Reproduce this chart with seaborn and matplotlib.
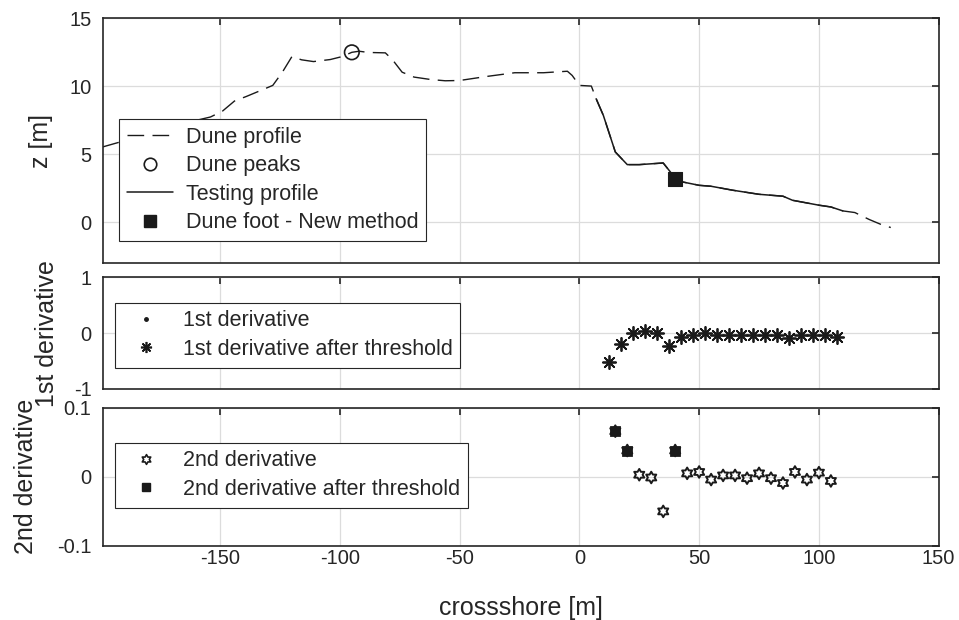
import numpy as np
import pandas as pd
import matplotlib
matplotlib.use("Agg")
import matplotlib.pyplot as plt
from matplotlib.lines import Line2D
from matplotlib.path import Path
import seaborn as sns

# ---------------- data ----------------
profile_x = [-199, -190, -175, -160, -154, -149, -144, -139, -133, -128, -124, -120, -116, -111,
             -104, -99, -95, -92, -88, -81, -78, -74, -69, -62, -56, -50, -39, -27, -15, -5, -3,
             0, 5, 7, 10, 15, 20, 25, 35, 38, 40, 43, 50, 55, 64, 75, 85, 89, 100, 105, 110,
             115, 121, 126, 130]
profile_z = [5.55, 6.0, 6.8, 7.5, 7.75, 8.18, 8.92, 9.26, 9.7, 10.07, 11.04, 12.19, 11.95, 11.82,
             11.97, 12.19, 12.5, 12.58, 12.49, 12.46, 11.95, 11.04, 10.68, 10.5, 10.41, 10.43, 10.72,
             11.0, 11.0, 11.11, 10.8, 10.07, 10.02, 9.09, 7.87, 5.18, 4.25, 4.25, 4.37, 3.71, 3.2,
             2.98, 2.73, 2.66, 2.37, 2.07, 1.93, 1.63, 1.27, 1.14, 0.85, 0.73, 0.22, -0.15, -0.37]
testing_range = (7, 110)

peak_x = [-95]
peak_z = [12.5]
foot_x = [40]
foot_z = [3.2]

d1_x = [12.5, 17.5, 22.5, 27.5, 32.5, 37.5, 42.5, 47.5, 52.5, 57.5,
        62.5, 67.5, 72.5, 77.5, 82.5, 87.5, 92.5, 97.5, 102.5, 107.5]
d1_y = [-0.52, -0.19, 0.0, 0.03, 0.0, -0.23, -0.07, -0.04, 0.0, -0.04,
        -0.04, -0.04, -0.03, -0.04, -0.04, -0.08, -0.04, -0.04, -0.04, -0.07]

d2_x = [15, 20, 25, 30, 35, 40, 45, 50, 55, 60, 65, 70, 75, 80, 85, 90, 95, 100, 105]
d2_y = [0.066, 0.038, 0.003, -0.001, -0.05, 0.038, 0.005, 0.007, -0.004, 0.002,
        0.002, -0.002, 0.005, -0.002, -0.009, 0.007, -0.004, 0.006, -0.006]
d2t_x = [15, 20, 40]
d2t_y = [0.066, 0.038, 0.038]

xlim = (-199, 150)
xticks = [-150, -100, -50, 0, 50, 100, 150]

# ---------------- style ----------------
sns.set_theme(style="white")
plt.rcParams['font.family'] = ['Liberation Sans', 'DejaVu Sans']
plt.rcParams['axes.edgecolor'] = '#262626'
plt.rcParams['axes.linewidth'] = 1.2

TICK_FS = 14.5
LABEL_FS = 18
LEG_FS = 15.5

fig = plt.figure(figsize=(9.59, 6.2), dpi=100)
ax1 = fig.add_axes([0.1071, 0.5753, 0.8717, 0.3952])
ax2 = fig.add_axes([0.1071, 0.3726, 0.8717, 0.1802])
ax3 = fig.add_axes([0.1071, 0.1194, 0.8717, 0.2231])

prof = pd.DataFrame({"x": profile_x, "z": profile_z})
test = prof[(prof.x >= testing_range[0]) & (prof.x <= testing_range[1])]

# top panel
sns.lineplot(data=prof, x="x", y="z", ax=ax1, color="k", lw=1.0, sort=False, estimator=None)
ax1.lines[-1].set_dashes((12, 6))
sns.lineplot(data=test, x="x", y="z", ax=ax1, color="k", lw=1.1, sort=False, estimator=None)
sns.scatterplot(x=peak_x, y=peak_z, ax=ax1, marker="o", s=110, linewidth=1.2, zorder=5)
ax1.collections[-1].set_facecolor("none")
ax1.collections[-1].set_edgecolor("k")
sns.scatterplot(x=foot_x, y=foot_z, ax=ax1, marker="s", s=95, color="k", edgecolor="k", zorder=5)

# middle panel
sns.scatterplot(x=d1_x, y=d1_y, ax=ax2, marker=".", s=20, color="k", edgecolor="k", zorder=4)
sns.scatterplot(x=d1_x, y=d1_y, ax=ax2, marker=(8, 2, 0), s=90, color="k", linewidth=1.3, zorder=5)
ax2.collections[-1].set_edgecolor("k")

# hexagram marker
ang = np.deg2rad(90 + np.arange(12) * 30)
rad = np.where(np.arange(12) % 2 == 0, 1.0, 0.577)
hex_verts = np.column_stack([rad * np.cos(ang), rad * np.sin(ang)])
hexagram = Path(np.vstack([hex_verts, hex_verts[:1]]), closed=True)

# bottom panel
sns.scatterplot(x=d2_x, y=d2_y, ax=ax3, marker=hexagram, s=70, linewidth=1.4, zorder=4)
ax3.collections[-1].set_facecolor("none")
ax3.collections[-1].set_edgecolor("k")
sns.scatterplot(x=d2t_x, y=d2t_y, ax=ax3, marker="s", s=50, color="k", edgecolor="k", zorder=5)

# axes formatting
for ax in (ax1, ax2, ax3):
    ax.set_xlim(*xlim)
    ax.set_xticks(xticks)
    ax.grid(True, color="#dcdcdc", lw=0.9)
    ax.set_axisbelow(True)
    ax.tick_params(direction="in", length=5, width=1.2, top=True, right=True,
                   labelsize=TICK_FS, colors="#262626")
    ax.tick_params(axis="x", pad=2)
    ax.tick_params(axis="y", pad=8)
    for s in ax.spines.values():
        s.set_visible(True)
        s.set_color("#262626")
    ax.set_xlabel("")
    ax.set_ylabel("")

ax1.set_ylim(-3, 15)
ax1.set_yticks([0, 5, 10, 15])
ax2.set_ylim(-1, 1)
ax2.set_yticks([-1, 0, 1])
ax3.set_ylim(-0.1, 0.1)
ax3.set_yticks([-0.1, 0, 0.1])
ax3.set_yticklabels(["-0.1", "0", "0.1"])
ax2.set_yticklabels(["-1", "0", "1"])
ax1.set_yticklabels(["0", "5", "10", "15"])
ax1.tick_params(labelbottom=False)
ax2.tick_params(labelbottom=False)
ax3.set_xticklabels([str(v) for v in xticks])

ax1.set_ylabel("z [m]", fontsize=LABEL_FS, color="#262626", labelpad=12)
ax2.set_ylabel("1st derivative", fontsize=LABEL_FS, color="#262626", labelpad=11)
ax3.set_ylabel("2nd derivative", fontsize=LABEL_FS, color="#262626", labelpad=14)
ax3.set_xlabel("crossshore [m]", fontsize=LABEL_FS, color="#262626", labelpad=20)

# legends
def mk_leg(ax, handles, labels, anchor, hl):
    leg = ax.legend(handles, labels, loc="upper left", bbox_to_anchor=anchor,
                    borderaxespad=0, fontsize=LEG_FS, frameon=True, fancybox=False,
                    edgecolor="#262626", framealpha=1, handlelength=hl,
                    labelspacing=0.35, borderpad=0.35, handletextpad=0.6)
    leg.get_frame().set_linewidth(0.8)
    return leg

h_prof = Line2D([], [], color="k", lw=1.0, dashes=(12, 6))
h_peak = Line2D([], [], color="k", marker="o", ls="none", mfc="none", ms=9, mew=1.2)
h_test = Line2D([], [], color="k", lw=1.1)
h_foot = Line2D([], [], color="k", marker="s", ls="none", ms=9)
mk_leg(ax1, [h_prof, h_peak, h_test, h_foot],
       ["Dune profile", "Dune peaks", "Testing profile", "Dune foot - New method"],
       (0.0195, 0.589), 2.15)

h_d1 = Line2D([], [], color="k", marker=".", ls="none", ms=5)
h_d1t = Line2D([], [], color="k", marker=(8, 2, 0), ls="none", ms=8, mew=1.2)
mk_leg(ax2, [h_d1, h_d1t], ["1st derivative", "1st derivative after threshold"],
       (0.0148, 0.77), 2.2)

h_d2 = Line2D([], [], color="k", marker=hexagram, ls="none", mfc="none", ms=7, mew=1.2)
h_d2t = Line2D([], [], color="k", marker="s", ls="none", ms=6)
mk_leg(ax3, [h_d2, h_d2t], ["2nd derivative", "2nd derivative after threshold"],
       (0.0148, 0.745), 2.2)

fig.savefig("out.png", dpi=100, facecolor="white")
